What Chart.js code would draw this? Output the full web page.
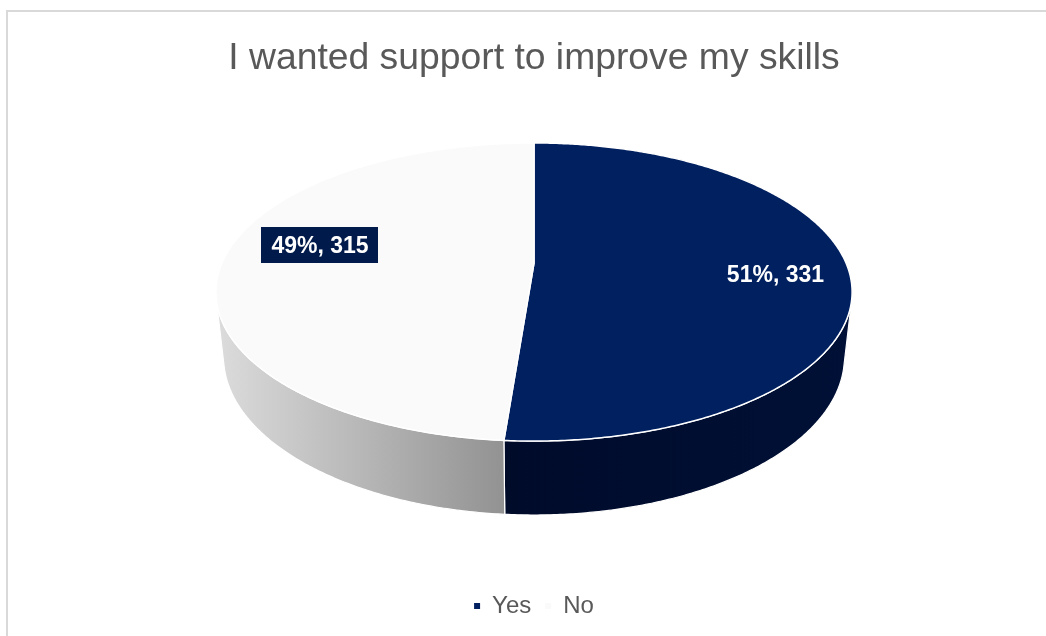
<!DOCTYPE html>
<html>
<head>
<meta charset="utf-8">
<script src="https://cdn.jsdelivr.net/npm/chart.js@4"></script>
<style>
  html, body { margin: 0; padding: 0; background: #ffffff; }
  #wrap { position: relative; width: 1046px; height: 636px; overflow: hidden; }
  #frame { position: absolute; left: 6px; top: 10px; width: 1100px; height: 700px;
           border: 2px solid #d9d9d9; box-sizing: border-box; }
  #c { position: absolute; left: 0; top: 0; }
</style>
</head>
<body>
<div id="wrap">
  <div id="frame"></div>
  <canvas id="c" width="1046" height="636"></canvas>
</div>
<script>
// Survey answers
const categories = ['Yes', 'No'];
const responses = [331, 315];
const chartTitle = 'I wanted support to improve my skills';

// Slice styling
const topColors = ['#002060', '#fafafa'];
const sideColors = [['#000b2a', '#001036'], ['#dcdcdc', '#929292']];

// Draws the pie as a tilted 3D disc, using the slice angles Chart.js computed
const pie3d = {
  id: 'pie3d',
  beforeDatasetDraw() { return false; },
  afterDatasetsDraw(chart, args, o) {
    const ctx = chart.ctx;
    const meta = chart.getDatasetMeta(0);
    const data = chart.data.datasets[0].data;
    const total = data.reduce((s, v) => s + v, 0);
    const sp = Math.sin(o.tilt), cp = Math.cos(o.tilt);
    const D = o.dist, S = o.scale, h = o.depth;

    // perspective projection of a point on the disc (angle a, radius r, height y)
    const proj = (a, r, y) => {
      const X = r * Math.cos(a), Z = r * Math.sin(a);
      const d = D - (y * sp + Z * cp);
      const k = S * D / d;
      return [o.cx + X * k, o.cy - (y * cp - Z * sp) * k];
    };
    const step = Math.PI / 360;
    const arcPts = (a1, a2, r, y) => {
      const pts = [];
      const n = Math.max(2, Math.ceil(Math.abs(a2 - a1) / step));
      for (let i = 0; i <= n; i++) pts.push(proj(a1 + (a2 - a1) * i / n, r, y));
      return pts;
    };

    const sidePart = (i, a1, a2) => {
      if (a2 - a1 <= 1e-6) return;
      const top = arcPts(a1, a2, 1, 0);
      const bot = arcPts(a2, a1, 1, -h);
      const pts = top.concat(bot);
      let minX = Infinity, maxX = -Infinity;
      pts.forEach(p => { minX = Math.min(minX, p[0]); maxX = Math.max(maxX, p[0]); });
      const g = ctx.createLinearGradient(minX, 0, maxX, 0);
      g.addColorStop(0, sideColors[i][0]);
      g.addColorStop(1, sideColors[i][1]);
      ctx.beginPath();
      pts.forEach((p, j) => j ? ctx.lineTo(p[0], p[1]) : ctx.moveTo(p[0], p[1]));
      ctx.closePath();
      ctx.fillStyle = g;
      ctx.fill();
      ctx.strokeStyle = '#ffffff';
      ctx.lineWidth = 1.2;
      ctx.lineJoin = 'round';
      ctx.stroke();
    };

    // front-facing part of the rim
    const as = Math.asin(Math.min(1, 1 / (D * cp)));
    const f1 = as, f2 = Math.PI - as;

    ctx.save();
    // back-facing rim first, then front-facing rim
    meta.data.forEach((arc, i) => {
      const a1 = arc.startAngle, a2 = arc.endAngle;
      sidePart(i, a1, Math.min(a2, f1));
      sidePart(i, Math.max(a1, f2), a2);
    });
    meta.data.forEach((arc, i) => {
      sidePart(i, Math.max(arc.startAngle, f1), Math.min(arc.endAngle, f2));
    });

    // top faces
    meta.data.forEach((arc, i) => {
      const c = proj(0, 0, 0);
      const pts = arcPts(arc.startAngle, arc.endAngle, 1, 0);
      ctx.beginPath();
      ctx.moveTo(c[0], c[1]);
      pts.forEach(p => ctx.lineTo(p[0], p[1]));
      ctx.closePath();
      ctx.fillStyle = topColors[i];
      ctx.fill();
      ctx.strokeStyle = '#ffffff';
      ctx.lineWidth = 1.5;
      ctx.lineJoin = 'round';
      ctx.stroke();
    });

    // value labels
    ctx.font = o.labelFont;
    ctx.textAlign = 'center';
    ctx.textBaseline = 'middle';
    meta.data.forEach((arc, i) => {
      const lab = o.labels[i];
      const mid = (arc.startAngle + arc.endAngle) / 2;
      const p = proj(mid, lab.r, 0);
      const x = p[0] + lab.dx, y = p[1] + lab.dy;
      const text = Math.round(data[i] / total * 100) + '%, ' + data[i];
      if (lab.box) {
        const w = ctx.measureText(text).width + 20;
        ctx.fillStyle = lab.box;
        ctx.fillRect(Math.round(x - w / 2), Math.round(y - 18), Math.round(w), 36);
      }
      ctx.fillStyle = '#ffffff';
      ctx.fillText(text, x, y + 1);
    });
    ctx.restore();
  }
};

new Chart(document.getElementById('c'), {
  type: 'pie',
  data: {
    labels: categories,
    datasets: [{
      data: responses,
      backgroundColor: topColors,
      borderWidth: 0
    }]
  },
  options: {
    responsive: false,
    animation: false,
    layout: { padding: { left: 22, bottom: 8 } },
    plugins: {
      title: {
        display: true,
        text: chartTitle,
        color: '#595959',
        font: { family: "'Liberation Sans', Arial, sans-serif", size: 37.3, weight: 'normal' },
        padding: { top: 36, bottom: 10 }
      },
      legend: {
        position: 'bottom',
        labels: {
          usePointStyle: true,
          pointStyle: 'rect',
          boxWidth: 6,
          boxHeight: 6,
          padding: 14,
          color: '#595959',
          font: { family: "'Liberation Sans', Arial, sans-serif", size: 24 }
        }
      },
      tooltip: { enabled: false },
      pie3d: {
        cx: 534, cy: 263, scale: 312, tilt: Math.asin(0.4596), dist: 4.56, depth: 0.2365,
        labelFont: "bold 23px 'Liberation Sans', Arial, sans-serif",
        labels: [
          { r: 0.77, dx: 0, dy: 7, box: null },
          { r: 0.69, dx: 0, dy: -14, box: '#001a4b' }
        ]
      }
    }
  },
  plugins: [pie3d]
});
</script>
</body>
</html>
